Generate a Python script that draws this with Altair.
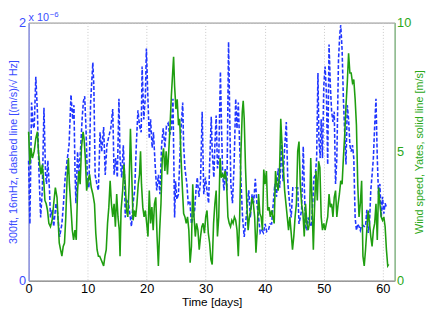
import altair as alt
import pandas as pd

# ---- data ----
blue_days = [0.00, 0.22, 0.50, 0.77, 0.94, 1.22, 1.49, 1.77, 2.04, 2.32, 2.60, 2.87, 3.04, 3.26, 3.54, 3.70, 3.98, 4.25, 4.64, 4.92,
             5.25, 5.64, 5.91, 6.19, 6.57, 6.85, 7.18, 7.46, 7.68, 7.85, 8.01, 8.29, 8.51, 8.84, 9.06, 9.28, 9.50, 9.72, 9.94, 10.22,
             10.50, 10.88, 11.05, 11.27, 11.55, 11.82, 12.10, 12.38, 12.71, 12.98, 13.26, 13.65, 13.92, 14.25, 14.48, 14.75, 15.03, 15.30,
             15.49, 15.77, 16.04, 16.21, 16.37, 16.65, 16.92, 17.14, 17.42, 17.69, 17.97, 18.24, 18.52, 18.79, 19.07, 19.23, 19.51, 19.78,
             19.95, 20.16, 20.44, 20.66, 20.93, 21.15, 21.43, 21.70, 21.98, 22.25, 22.53, 22.80, 23.08, 23.35, 23.63, 23.90, 24.18, 24.45,
             24.73, 24.89, 25.11, 25.38, 25.66, 25.82, 26.10, 26.26, 26.48, 26.81, 27.03, 27.31, 27.58, 27.86, 28.13, 28.35, 28.57, 28.85,
             29.12, 29.40, 29.67, 29.95, 30.22, 30.49,
             30.66, 30.94, 31.10, 31.38, 31.55, 31.77, 31.99, 32.21, 32.49, 32.65, 32.87, 33.09, 33.31, 33.59, 33.87, 34.03, 34.25, 34.53,
             34.81, 35.08, 35.30, 35.52, 35.75, 35.97, 36.24, 36.52, 36.74, 37.02, 37.29, 37.57, 37.85, 38.12, 38.40, 38.67, 38.95, 39.23,
             39.50, 39.78, 40.06, 40.33, 40.61, 40.88, 41.16, 41.44, 41.71, 41.99, 42.27, 42.54, 42.82, 43.09, 43.37, 43.65, 43.92, 44.20,
             44.48, 44.75, 45.03, 45.58,
             45.80, 46.02, 46.24, 46.52, 46.69, 46.91, 47.13, 47.35, 47.63, 47.90, 48.12, 48.34, 48.57, 48.79, 49.01, 49.17, 49.39, 49.56,
             49.78, 50.00, 50.22, 50.44, 50.66, 50.89, 51.11, 51.33, 51.55, 51.77, 51.99, 52.21, 52.49, 52.71, 52.87, 53.10, 53.32, 53.54,
             53.76, 53.98, 54.20, 54.42, 54.64, 54.86, 55.08, 55.31, 55.53, 55.75, 55.97, 56.19, 56.41, 56.63, 56.85, 57.07, 57.29, 57.52,
             57.74, 57.96, 58.18, 58.40, 58.62, 58.84, 59.06, 59.28, 59.50, 59.73, 59.95, 60.17, 60.39, 60.61]
blue_vals = [0.93, 0.44, 1.38, 1.20, 1.18, 1.58, 1.31, 0.82, 0.49, 0.70, 1.34, 0.82, 0.75, 0.93, 0.70, 0.49, 0.55, 0.42, 0.60, 0.52,
             0.34, 0.44, 0.60, 0.80, 0.95, 1.05, 1.44, 1.25, 1.36, 0.87, 0.60, 1.00, 0.82, 1.05, 1.25, 1.39, 1.43, 1.18, 0.82, 0.72,
             1.38, 1.69, 1.51, 0.82, 0.75, 0.70, 1.15, 1.00, 1.19, 0.82, 1.05, 1.13, 1.18, 1.33, 0.82, 0.95, 0.80, 1.41,
             0.95, 0.80, 1.05, 0.87, 0.49, 0.62, 0.60, 0.52, 0.42, 0.60, 0.70, 1.05, 1.32, 1.20, 1.15, 1.66, 1.25, 1.43,
             1.80, 1.48, 1.10, 1.25, 1.03, 1.15, 0.90, 0.70, 0.82, 0.67, 1.05, 1.18, 1.03, 1.20, 1.22, 1.13, 1.18, 1.41,
             0.49, 0.77, 0.63, 0.67, 1.00, 1.18, 1.38, 1.05, 0.87, 0.75, 0.60, 0.62, 0.44, 0.49, 0.55, 0.70, 0.80, 0.65,
             0.77, 1.31, 0.67, 0.80, 0.70, 0.60,
             0.90, 1.27, 1.00, 0.80, 1.05, 1.28, 0.87, 0.95, 1.62, 1.25, 0.82, 0.70, 0.87, 0.70, 1.85, 1.38, 0.75, 0.60,
             0.90, 1.41, 1.18, 1.38, 1.05, 0.77, 0.49, 0.34, 0.44, 0.57, 0.70, 0.49, 0.67, 0.60, 0.79, 0.60, 0.49, 0.37,
             0.39, 0.37, 0.44, 0.38, 0.39, 0.44, 0.44, 0.60, 0.75, 0.65, 0.87, 0.72, 1.08, 0.77, 1.03, 1.23, 0.75, 0.60,
             0.49, 0.72, 0.72, 0.72,
             0.44, 0.49, 0.55, 1.04, 0.75, 0.42, 0.39, 0.49, 0.44, 0.42, 0.60, 0.80, 0.82, 0.95, 1.61, 1.10, 0.95, 1.25,
             0.95, 1.51, 1.66, 1.46, 0.90, 1.83, 1.51, 1.31, 1.23, 1.31, 0.75, 0.95, 1.71, 1.91, 1.98, 1.79, 1.41, 1.15,
             0.90, 1.36, 1.25, 1.05, 1.00, 1.05, 0.95, 0.49, 0.39, 0.44, 0.42, 0.39, 0.43, 0.43, 0.42, 0.42, 0.55, 0.37,
             0.44, 0.70, 0.82, 0.95, 1.20, 1.41, 0.95, 0.65, 0.75, 0.49, 0.65, 0.52, 0.60, 0.57]

green_days = [0.00, 0.22, 0.39, 0.66, 0.94, 1.22, 1.49, 1.66, 1.88, 2.10, 2.32, 2.60, 2.76, 2.98, 3.20, 3.43, 3.70, 3.98, 4.25, 4.53,
              4.81, 4.97, 5.19, 5.41, 5.64, 5.86, 6.08, 6.30, 6.52, 6.74, 6.91, 7.13, 7.40, 7.62, 7.85, 8.07, 8.29, 8.51, 8.73, 8.95,
              9.23, 9.39, 9.61, 9.83, 10.06, 10.33, 10.61, 10.88, 11.16, 11.38, 11.60, 11.82, 12.04, 12.27, 12.49, 12.71, 12.93, 13.15,
              13.37, 13.59, 13.81, 14.03, 14.25, 14.48, 14.70, 14.92, 15.14, 15.36,
              15.49, 15.66, 15.93, 16.15, 16.37, 16.59, 16.81, 17.03, 17.25, 17.47, 17.69, 17.91, 18.13, 18.35, 18.57, 18.79, 18.96,
              19.12, 19.34, 19.56, 19.78, 20.00, 20.22, 20.44, 20.66, 20.88, 21.10, 21.32, 21.54, 21.76, 21.98, 22.20, 22.42, 22.64,
              22.86, 23.08, 23.30, 23.52, 23.74, 23.96, 24.18, 24.40, 24.56, 24.73, 24.95, 25.17, 25.39, 25.59, 25.82, 26.04, 26.26,
              26.48, 26.70, 26.92, 27.14, 27.36, 27.58, 27.80, 28.02, 28.24, 28.45, 28.68, 28.90, 29.12, 29.34, 29.56, 29.78, 30.00,
              30.22, 30.44,
              30.66, 30.88, 31.10, 31.33, 31.55, 31.77, 31.99, 32.21, 32.43, 32.65, 32.87, 33.09, 33.31, 33.54, 33.76, 33.98, 34.20,
              34.42, 34.64, 34.86, 35.08, 35.30, 35.52, 35.75, 35.97, 36.19, 36.35, 36.52, 36.74, 36.96, 37.18, 37.40, 37.62, 37.85,
              38.07, 38.29, 38.51, 38.73, 38.95, 39.17, 39.39, 39.61, 39.83, 40.06, 40.28, 40.50, 40.72, 40.94, 41.16, 41.38, 41.60,
              41.82, 42.04, 42.27, 42.49, 42.71, 42.93, 43.15, 43.37, 43.59, 43.81, 44.03, 44.25, 44.48, 44.70, 44.92, 45.14, 45.36,
              45.58, 45.80,
              46.02, 46.24, 46.47, 46.69, 46.91, 47.13, 47.35, 47.57, 47.79, 48.01, 48.23, 48.45, 48.68, 48.90, 49.12, 49.34, 49.56,
              49.78, 50.00, 50.22, 50.44, 50.66, 50.89, 51.11, 51.33, 51.55, 51.77, 51.99, 52.21, 52.43, 52.65, 52.87, 53.10, 53.32,
              53.54, 53.76, 53.98, 54.20, 54.42, 54.64, 54.86, 55.08, 55.31, 55.53, 55.75, 55.97, 56.19, 56.41, 56.63, 56.85, 57.07,
              57.29, 57.52, 57.74, 57.96, 58.18, 58.40, 58.62, 58.84, 59.06, 59.28, 59.50, 59.73, 59.95, 60.17, 60.39, 60.61, 60.83,
              61.00]
green_vals = [5.77, 4.50, 5.13, 4.75, 5.01, 5.51, 5.77, 5.01, 4.50, 4.12, 4.50, 3.74, 3.11, 2.98, 2.73, 2.22, 2.09, 2.34, 2.98, 3.61,
              3.23, 2.47, 1.46, 1.20, 0.95, 1.33, 1.46, 2.47, 3.99, 4.75, 3.74, 2.98, 1.96, 1.58, 1.96, 1.58, 3.49, 4.25, 3.74, 5.13,
              5.77, 5.51, 4.75, 3.49, 3.87, 4.12, 3.61, 3.36, 2.98, 1.84, 1.20, 0.95, 0.95, 0.82, 0.70, 0.57, 0.95, 1.20,
              2.22, 2.85, 3.87, 2.98, 2.47, 2.98, 2.09, 3.36, 2.47, 1.96,
              0.95, 2.72, 3.49, 4.50, 3.74, 2.72, 2.47, 3.74, 5.89, 4.12, 2.34, 2.72, 2.47, 2.98, 3.74, 4.12, 5.01,
              3.74, 2.85, 2.47, 2.72, 2.22, 1.71, 3.49, 2.22, 2.85, 1.96, 2.98, 3.23, 1.71, 0.57, 1.96, 2.98, 4.75,
              5.13, 4.25, 5.01, 4.12, 5.01, 6.02, 7.16, 8.05, 8.68, 7.54, 6.65, 7.03, 6.02, 6.27, 4.75, 3.61, 2.60,
              2.47, 2.22, 2.47, 1.96, 0.70, 1.33, 3.74, 2.47, 1.71, 2.22, 1.96, 1.20, 1.71, 2.09, 2.22, 1.84, 2.47,
              2.72, 1.84,
              1.46, 0.82, 0.63, 2.22, 2.98, 3.49, 1.71, 2.47, 4.75, 3.99, 4.12, 3.99, 4.25, 3.74, 2.47, 2.22, 2.09,
              2.34, 2.22, 2.47, 2.34, 1.96, 0.95, 2.47, 5.01, 6.53, 6.97, 6.27, 4.37, 2.98, 1.96, 2.47, 2.72, 3.23,
              2.98, 2.47, 1.08, 1.96, 3.36, 2.60, 2.47, 1.96, 4.31, 3.74, 4.25, 2.72, 2.85, 2.47, 2.72, 2.47, 2.22,
              4.25, 3.74, 3.49, 4.12, 6.27, 5.26, 4.37, 3.49, 2.98, 2.47, 1.96, 2.47, 1.84, 1.20, 1.71, 2.47, 2.98,
              5.01, 5.39,
              3.74, 2.98, 2.60, 1.71, 2.98, 2.22, 1.96, 2.22, 4.75, 2.98, 1.20, 2.98, 4.25, 3.11, 4.63, 4.37, 2.47,
              1.96, 2.22, 1.96, 2.22, 2.47, 3.36, 2.85, 2.98, 2.47, 3.23, 3.49, 2.47, 2.98, 3.36, 3.87, 3.74, 4.75,
              5.64, 6.78, 7.67, 8.81, 8.05, 8.05, 7.67, 7.79, 7.03, 6.02, 3.74, 2.47, 2.98, 3.87, 0.95, 0.57, 1.20,
              1.96, 2.72, 2.22, 1.71, 1.33, 1.96, 2.22, 2.98, 1.58, 3.61, 2.98, 2.47, 2.34, 2.47, 2.09, 1.20, 0.57,
              0.63]

x_ticks = [0, 10, 20, 30, 40, 50, 60]
left_ticks = [0, 1, 2]
right_ticks = [0, 5, 10]

FONT = "Liberation Sans"
BLUE_LINE = "#2036ff"
BLUE_TEXT = "#3a4cff"
BLUE_AXIS = "#7b86ff"
GREEN_LINE = "#1f9e10"
GREEN_TEXT = "#2aa818"
GREEN_AXIS = "#7cc47c"
GRAY = "#8a8a8a"

blue_df = pd.DataFrame({"day": blue_days, "v": blue_vals})
green_df = pd.DataFrame({"day": green_days, "w": green_vals})

xscale = alt.Scale(domain=[0, 62], nice=False, zero=False)
xaxis = alt.Axis(values=x_ticks, format="d", title="Time [days]", grid=True, gridColor="#c8c8c8", gridDash=[1, 2],
                 ticks=False, domainColor=GRAY, labelColor="black", labelFontSize=13, labelFont=FONT,
                 labelPadding=2, labelFlush=False, titleFont=FONT, titleFontSize=12, titleFontWeight="normal",
                 titleColor="black", titleY=25, titleBaseline="alphabetic")

blue = alt.Chart(blue_df).mark_line(color=BLUE_LINE, strokeDash=[4, 2], strokeWidth=1.6).encode(
    x=alt.X("day:Q", scale=xscale, axis=xaxis),
    y=alt.Y("v:Q", scale=alt.Scale(domain=[0, 2], nice=False),
            axis=alt.Axis(orient="left", values=left_ticks, format="d", grid=True, gridColor="#c8c8c8",
                          gridDash=[1, 2], ticks=False, domainColor=BLUE_AXIS, labelColor=BLUE_TEXT,
                          labelFontSize=13, labelFont=FONT, labelPadding=3, labelFlush=False,
                          title="300ft, 16mHz, dashed line  [(m/s)/\u221a Hz]", titleFont=FONT, titleFontSize=11,
                          titleFontWeight="normal", titleColor=BLUE_TEXT, titleAngle=270, titleX=-15, titleY=131.5,
                          titleAlign="center", titleBaseline="middle")),
)

green = alt.Chart(green_df).mark_line(color=GREEN_LINE, strokeWidth=1.6).encode(
    x=alt.X("day:Q", scale=xscale),
    y=alt.Y("w:Q", scale=alt.Scale(domain=[0, 10], nice=False),
            axis=alt.Axis(orient="right", values=right_ticks, format="d", grid=False, ticks=False,
                          domainColor=GREEN_AXIS, labelColor=GREEN_TEXT, labelFontSize=13, labelFont=FONT,
                          labelPadding=2, labelFlush=False, title="Wind speed, Yates, solid line [m/s]",
                          titleFont=FONT, titleFontSize=11, titleFontWeight="normal", titleColor=GREEN_TEXT,
                          titleAngle=270, titleX=25, titleY=131.5, titleAlign="center", titleBaseline="middle")),
)

exp_a = alt.Chart(pd.DataFrame({"t": ["x 10"]})).mark_text(
    align="left", baseline="alphabetic", fontSize=11, font=FONT, color=BLUE_TEXT
).encode(x=alt.value(0), y=alt.value(-2), text="t:N")
exp_b = alt.Chart(pd.DataFrame({"t": ["\u22126"]})).mark_text(
    align="left", baseline="alphabetic", fontSize=8, font=FONT, color=BLUE_TEXT
).encode(x=alt.value(21.5), y=alt.value(-6), text="t:N")

chart = alt.layer(blue, green, exp_a, exp_b).resolve_scale(y="independent").properties(
    width=373, height=263,
    autosize=alt.AutoSizeParams(type="none"),
    padding={"left": 21, "top": 12, "right": 34, "bottom": 28},
    background="white",
).configure_view(stroke=GRAY, strokeWidth=1)

chart.save("out.html", embed_options={"renderer": "svg", "actions": False})
